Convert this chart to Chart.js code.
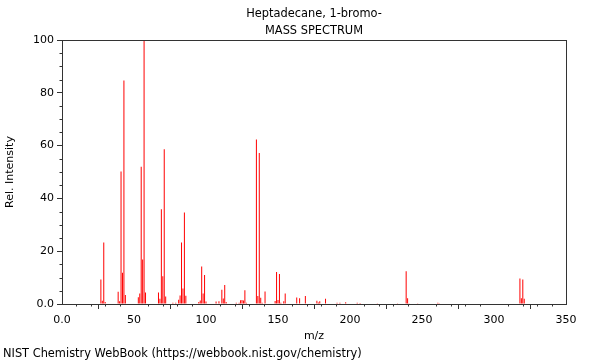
<!DOCTYPE html>
<html>
<head>
<meta charset="utf-8">
<script src="https://cdn.jsdelivr.net/npm/chart.js@4/dist/chart.umd.min.js"></script>
<style>
  html, body { margin: 0; padding: 0; background: #fff; }
  #wrap { width: 600px; height: 360px; position: relative; }
</style>
</head>
<body>
<div id="wrap"><canvas id="msCanvas"></canvas></div>
<script>
// m/z values and relative intensities
const mzValues = [
    27, 28, 29, 30, 39, 40, 41, 42, 43, 44,
    53, 54, 55, 56, 57, 58, 67, 68, 69, 70, 71, 72,
    77, 79, 81, 82, 83, 84, 85, 86,
    95, 96, 97, 98, 99, 100,
    107, 109, 111, 112, 113, 114,
    121, 123, 124, 125, 126, 127, 128,
    135, 136, 137, 138, 139, 141,
    148, 149, 150, 151, 152, 154, 155,
    163, 165, 169, 177, 178, 179, 183,
    191, 193, 197, 205, 207, 219, 233,
    239, 240, 241, 247, 261, 262, 276,
    318, 319, 320, 321
];
const intensities = [
    9.3, 1.2, 23.3, 0.8, 4.6, 1.0, 50.2, 11.8, 84.7, 3.4,
    2.6, 4.0, 52.0, 16.9, 100, 4.4, 4.4, 2.0, 35.9, 10.5, 58.6, 2.8,
    0.5, 0.5, 1.6, 3.2, 23.3, 5.9, 34.7, 3.1,
    0.8, 1.3, 14.2, 4.0, 11.0, 0.9,
    0.9, 1.0, 5.4, 2.1, 7.2, 0.8,
    0.5, 0.5, 1.4, 1.5, 1.3, 5.2, 0.5,
    62.3, 3.0, 57.2, 2.4, 0.5, 4.7,
    1.1, 12.1, 1.5, 11.4, 0.5, 1.0, 4.0,
    2.5, 2.2, 3.0, 1.2, 0.6, 1.0, 2.0,
    0.5, 0.5, 0.7, 0.5, 0.4, 0.3, 0.3,
    12.4, 2.2, 0.3, 0.3, 0.5, 0.3, 0.2,
    9.7, 2.2, 9.3, 2.0
];
const xTickStep = 50;
const yTickStep = 20;

const titleLines = ["Heptadecane, 1-bromo-", "MASS SPECTRUM"];
const footerText = "NIST Chemistry WebBook (https://webbook.nist.gov/chemistry)";

const fontFamily = "'DejaVu Sans', sans-serif";
const axisColor = "#333333";

// frame on top/right, minor ticks, and the footer line
const framePlugin = {
    id: "frame",
    afterDraw(chart) {
        const { ctx, chartArea: a, scales } = chart;
        ctx.save();
        ctx.strokeStyle = axisColor;
        ctx.lineWidth = 1;
        ctx.beginPath();
        ctx.moveTo(a.left, Math.round(a.top) + 0.5);
        ctx.lineTo(a.right, Math.round(a.top) + 0.5);
        ctx.moveTo(Math.round(a.right) + 0.5, a.top);
        ctx.lineTo(Math.round(a.right) + 0.5, a.bottom);

        // minor ticks
        for (let v = 10; v < 350; v += 10) {
            if (v % xTickStep === 0) continue;
            const px = Math.round(scales.x.getPixelForValue(v)) + 0.5;
            ctx.moveTo(px, a.bottom);
            ctx.lineTo(px, a.bottom + 2.5);
        }
        for (let v = 5; v < 100; v += 5) {
            if (v % yTickStep === 0) continue;
            const py = Math.round(scales.y.getPixelForValue(v)) + 0.5;
            ctx.moveTo(a.left, py);
            ctx.lineTo(a.left - 2.5, py);
        }
        ctx.stroke();

        ctx.fillStyle = "#000";
        ctx.font = "11.4px " + fontFamily;
        ctx.textBaseline = "middle";
        ctx.textAlign = "left";
        ctx.fillText(footerText, 3, 354);
        ctx.restore();
    },
};

new Chart(document.getElementById("msCanvas"), {
    type: "bar",
    data: {
        datasets: [
            {
                data: mzValues.map((m, i) => ({ x: m, y: intensities[i] })),
                backgroundColor: "#ff0000",
                borderWidth: 0,
                inflateAmount: 0,
                barThickness: 1,
                grouped: false,
            },
        ],
    },
    options: {
        responsive: true,
        maintainAspectRatio: false,
        animation: false,
        devicePixelRatio: 1,
        layout: { padding: { left: 0, right: 34, top: 0, bottom: 18 } },
        plugins: {
            legend: { display: false },
            tooltip: { enabled: false },
            title: {
                display: true,
                text: titleLines,
                fullSize: false,
                color: "#000",
                font: { family: fontFamily, size: 11.4, weight: "normal", lineHeight: "17px" },
                padding: { top: 6, bottom: 0 },
            },
        },
        scales: {
            x: {
                type: "linear",
                min: 0,
                max: 350,
                offset: false,
                afterFit(scale) { scale.height = 38; },
                ticks: {
                    stepSize: xTickStep,
                    color: "#000",
                    font: { family: fontFamily, size: 11 },
                    padding: 5,
                    maxRotation: 0,
                    callback: (v) => (v === 0 ? "0.0" : String(v)),
                },
                grid: {
                    drawOnChartArea: false,
                    drawTicks: true,
                    tickLength: 5,
                    tickColor: axisColor,
                },
                border: { display: true, color: axisColor },
                title: {
                    display: true,
                    text: "m/z",
                    color: "#000",
                    font: { family: fontFamily, size: 11 },
                    padding: { top: 0, bottom: -0.8 },
                },
            },
            y: {
                min: 0,
                max: 100,
                afterFit(scale) { scale.width = 62; },
                ticks: {
                    stepSize: yTickStep,
                    color: "#000",
                    font: { family: fontFamily, size: 11 },
                    padding: 3,
                    callback: (v) => (v === 0 ? "0.0" : String(v)),
                },
                grid: {
                    drawOnChartArea: false,
                    drawTicks: true,
                    tickLength: 5,
                    tickColor: axisColor,
                },
                border: { display: true, color: axisColor },
                title: {
                    display: true,
                    text: "Rel. Intensity",
                    color: "#000",
                    font: { family: fontFamily, size: 11 },
                    padding: { top: 4, bottom: 0 },
                },
            },
        },
    },
    plugins: [framePlugin],
});
</script>
</body>
</html>
